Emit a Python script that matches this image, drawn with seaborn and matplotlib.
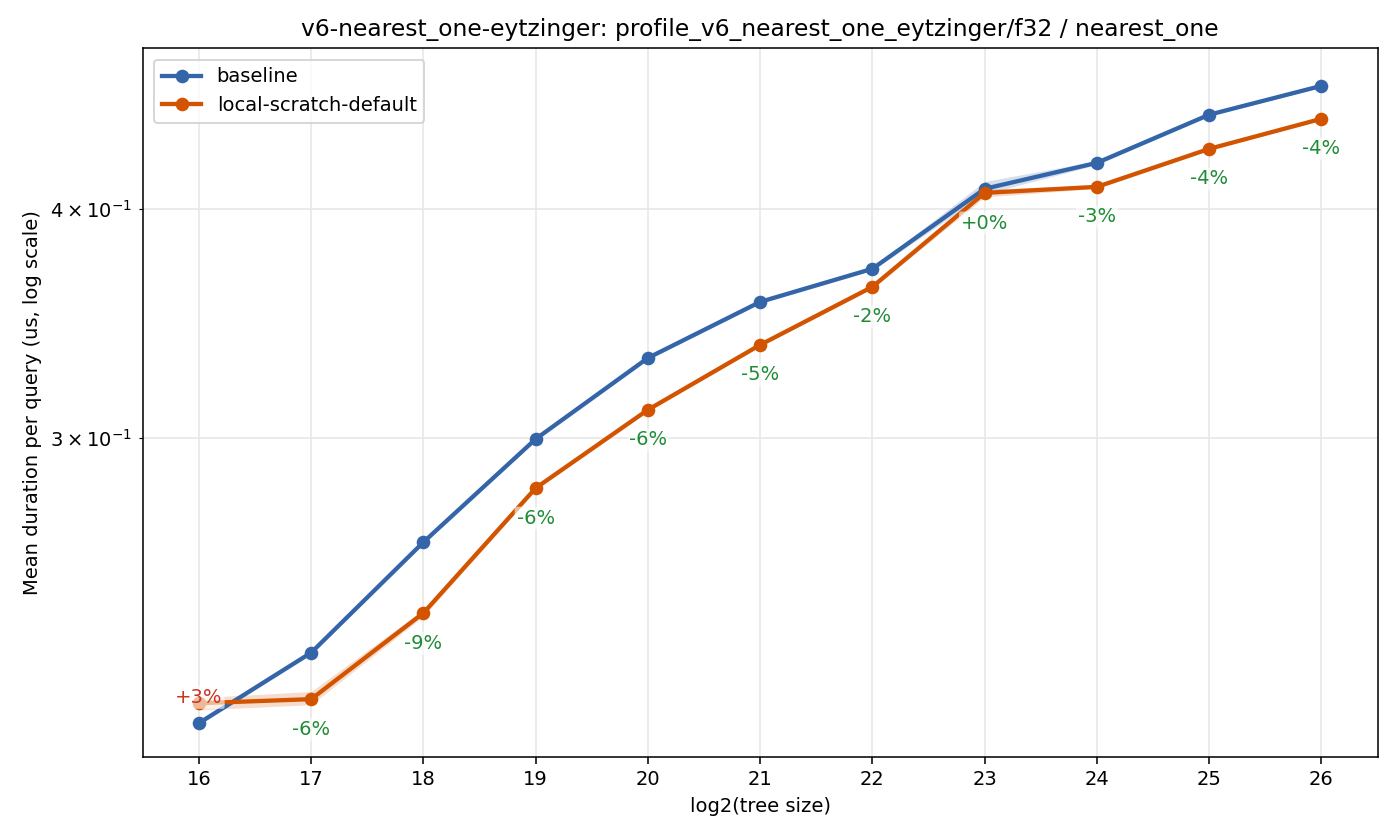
import numpy as np
import pandas as pd
import seaborn as sns
import matplotlib.pyplot as plt

tree_log2 = [16, 17, 18, 19, 20, 21, 22, 23, 24, 25, 26]
baseline = [0.2097, 0.2291, 0.2632, 0.2996, 0.3317, 0.3559, 0.3710, 0.4102, 0.4238, 0.4502, 0.4668]
baseline_lo = [0.2092, 0.2286, 0.2627, 0.2990, 0.3310, 0.3552, 0.3703, 0.4075, 0.4228, 0.4494, 0.4660]
baseline_hi = [0.2102, 0.2296, 0.2637, 0.3002, 0.3324, 0.3566, 0.3717, 0.4140, 0.4248, 0.4510, 0.4676]
scratch = [0.2150, 0.2161, 0.2408, 0.2817, 0.3108, 0.3372, 0.3627, 0.4081, 0.4112, 0.4313, 0.4479]
scratch_lo = [0.2132, 0.2146, 0.2398, 0.2811, 0.3102, 0.3366, 0.3620, 0.4060, 0.4104, 0.4306, 0.4472]
scratch_hi = [0.2165, 0.2182, 0.2418, 0.2823, 0.3114, 0.3378, 0.3634, 0.4100, 0.4120, 0.4320, 0.4486]
pct_labels = ["+3%", "-6%", "-9%", "-6%", "-6%", "-5%", "-2%", "+0%", "-3%", "-4%", "-4%"]

colors = {"baseline": "#3465a8", "local-scratch-default": "#d35400"}

df = pd.DataFrame({
    "x": tree_log2 * 2,
    "y": baseline + scratch,
    "variant": ["baseline"] * len(tree_log2) + ["local-scratch-default"] * len(tree_log2),
})

fig, ax = plt.subplots(figsize=(10, 6), dpi=140)
fig.subplots_adjust(left=0.102, right=0.984, top=0.943, bottom=0.099)

# uncertainty bands
ax.fill_between(tree_log2, baseline_lo, baseline_hi, color=colors["baseline"], alpha=0.2, lw=0)
ax.fill_between(tree_log2, scratch_lo, scratch_hi, color=colors["local-scratch-default"], alpha=0.2, lw=0)

sns.lineplot(data=df, x="x", y="y", hue="variant", palette=colors, marker="o",
             markersize=7, markeredgewidth=0, linewidth=2.2, errorbar=None, ax=ax)

ax.set_yscale("log")
ax.set_ylim(0.201, 0.4896)
ax.set_xlim(15.5, 26.5)
ax.set_xticks(tree_log2)
ax.grid(True, which="both", color="#e6e6e6", linewidth=0.8)
ax.set_axisbelow(True)

# percentage change labels
for xv, yv, lab in zip(tree_log2, scratch, pct_labels):
    if lab.startswith("+") and lab != "+0%":
        ax.annotate(lab, (xv, yv), xytext=(0, 3), textcoords="offset points",
                    ha="center", va="center", fontsize=10, color="#cc3322",
                    bbox=dict(boxstyle="round,pad=0.1", fc="white", ec="none", alpha=0.6))
    else:
        ax.annotate(lab, (xv, yv), xytext=(0, -15.5), textcoords="offset points",
                    ha="center", va="center", fontsize=10, color="#1e8c35",
                    bbox=dict(boxstyle="round,pad=0.1", fc="white", ec="none", alpha=0.6))

ax.set_title("v6-nearest_one-eytzinger: profile_v6_nearest_one_eytzinger/f32 / nearest_one", fontsize=12)
ax.set_xlabel("log2(tree size)", fontsize=10)
ax.set_ylabel("Mean duration per query (us, log scale)", fontsize=10)
ax.tick_params(which="both", labelsize=10)
ax.legend(loc="upper left", fontsize=10, borderaxespad=0.6)

plt.savefig("out.png", dpi=140)
